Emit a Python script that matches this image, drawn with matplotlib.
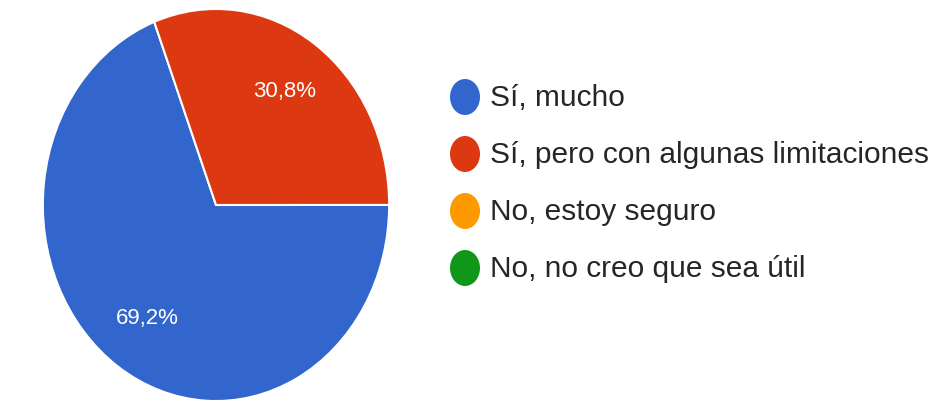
import matplotlib
matplotlib.use("Agg")
import matplotlib.pyplot as plt
from matplotlib.patches import Ellipse

categories = [
    "Sí, mucho",
    "Sí, pero con algunas limitaciones",
    "No, estoy seguro",
    "No, no creo que sea útil",
]
percentages = [69.2, 30.8, 0.0, 0.0]
colors = ["#3366cc", "#dc3912", "#ff9900", "#109618"]

plt.rcParams["font.family"] = ["Liberation Sans", "DejaVu Sans"]

W, H = 933, 411
fig = plt.figure(figsize=(W / 100, H / 100), dpi=100)

# pie drawn in a stretched axes (the original is slightly elliptical)
ax = fig.add_axes([42 / W, (H - 402) / H, 348 / W, 394 / H])
shown = [(p, c) for p, c in zip(percentages, colors) if p > 0]
wedges, texts, autotexts = ax.pie(
    [p for p, _ in shown],
    colors=[c for _, c in shown],
    startangle=110.9,
    counterclock=True,
    autopct=lambda v: f"{v:.1f}%".replace(".", ","),
    pctdistance=0.7,
    wedgeprops=dict(edgecolor="white", linewidth=1.5),
    textprops=dict(color="white", fontsize=16),
)
ax.set_aspect("auto")
ax.set_xlim(-1.005, 1.005)
ax.set_ylim(-1.005, 1.005)
ax.axis("off")

# legend with pixel coordinates
lg = fig.add_axes([0, 0, 1, 1])
lg.set_xlim(0, W)
lg.set_ylim(H, 0)
lg.axis("off")
row_y0, row_step = 97, 57
for i, (label, color) in enumerate(zip(categories, colors)):
    y = row_y0 + i * row_step
    lg.add_patch(Ellipse((465, y), 30, 36, facecolor=color, edgecolor="none"))
    lg.text(490, y + 1, label, fontsize=21.5, color="#262626", va="center", ha="left")

fig.savefig("out.png", dpi=100)
